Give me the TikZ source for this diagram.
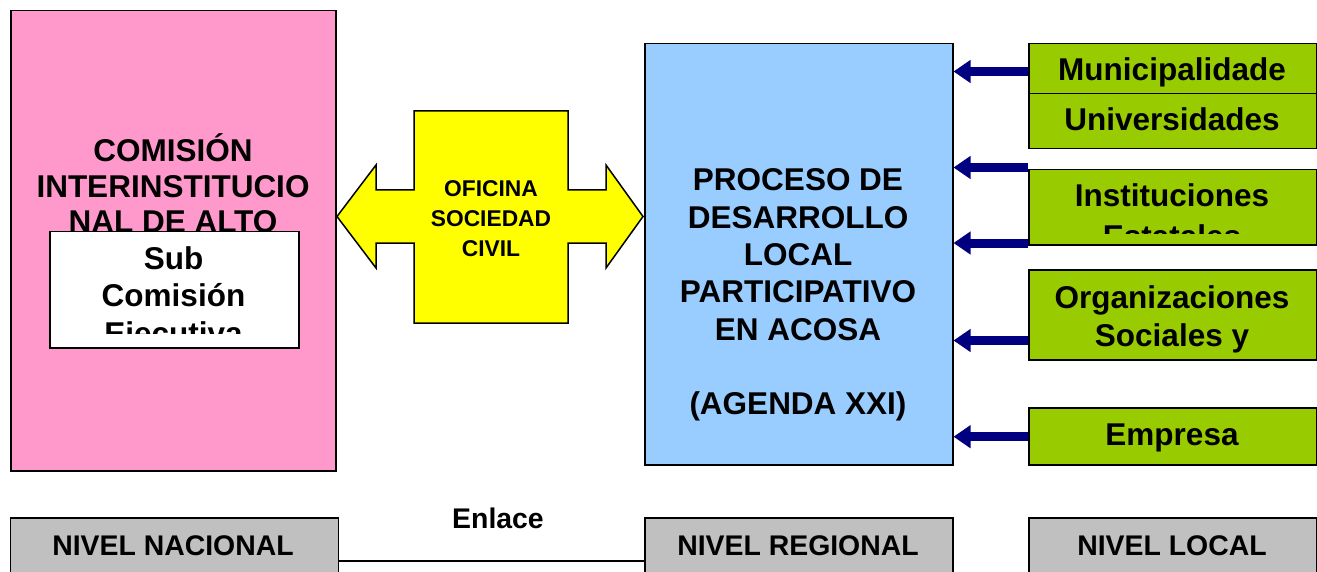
\documentclass[tikz,border=0pt]{standalone}
\usepackage{fontspec}
\setmainfont{Liberation Sans}
\usetikzlibrary{arrows.meta}
\definecolor{pinkc}{HTML}{FF99CC}
\definecolor{bluec}{HTML}{99CCFF}
\definecolor{yellowc}{HTML}{FFFF00}
\definecolor{greenc}{HTML}{99CC00}
\definecolor{grayc}{HTML}{C0C0C0}
\definecolor{navyc}{HTML}{000080}
\tikzset{
  box/.style={draw=black, line width=1.5pt, inner sep=0pt, anchor=north west},
  tl/.style={anchor=base, inner sep=0pt, font=\bfseries\fontsize{31.5}{37}\selectfont},
  tm/.style={anchor=base, inner sep=0pt, font=\bfseries\fontsize{28.4}{33}\selectfont},
  tsm/.style={anchor=base, inner sep=0pt, font=\bfseries\fontsize{22.8}{27}\selectfont},
  navyarrow/.style={line width=9pt, draw=navyc, -{Triangle[length=17pt,width=22pt,fill=navyc]}},
}
\begin{document}
\begin{tikzpicture}[x=1pt,y=-1pt]
\useasboundingbox (0,0) rectangle (1317,572);
\clip (0,0) rectangle (1317,572);
\fill[white] (0,0) rectangle (1317,572);

% left pink box
\node[box, fill=pinkc, minimum width=325pt, minimum height=460pt] (cia) at (10,10) {};
\node[tl] (cia1) at (173,161.7) {COMISIÓN};
\node[tl] (cia2) at (173,197.5) {INTERINSTITUCIO};
\node[tl] (cia3) at (173,233) {NAL DE ALTO};
\node[box, fill=white, minimum width=249pt, minimum height=116pt] (sub) at (49,231) {};
\node[tl] (sub1) at (173.5,269.3) {Sub};
\node[tl] (sub2) at (173.5,306.7) {Comisión};
\begin{scope}
  \clip (50,232) rectangle (297,333.3);
  \node[tl] (sub3) at (173.5,344.1) {Ejecutiva};
\end{scope}

% yellow double arrow
\draw[fill=yellowc, line width=1.5pt, line join=miter]
  (337,216.5) -- (376,165) -- (376,190) -- (414,190) -- (414,111) -- (568,111)
  -- (568,190) -- (606,190) -- (606,165) -- (643,216.5) -- (606,268) -- (606,243)
  -- (568,243) -- (568,323) -- (414,323) -- (414,243) -- (376,243) -- (376,268) -- cycle;
\node[tsm] (of1) at (491,196.5) {OFICINA};
\node[tsm] (of2) at (491,226) {SOCIEDAD};
\node[tsm] (of3) at (491,256.5) {CIVIL};

% blue box
\node[box, fill=bluec, minimum width=308pt, minimum height=421pt] (blue) at (644,43) {};
\node[tl] (b1) at (798,191) {PROCESO DE};
\node[tl] (b2) at (798,228.3) {DESARROLLO};
\node[tl] (b3) at (798,265.6) {LOCAL};
\node[tl] (b4) at (798,302.9) {PARTICIPATIVO};
\node[tl] (b5) at (798,340.2) {EN ACOSA};
\node[tl] (b6) at (798,414.8) {(AGENDA XXI)};

% green boxes
\node[box, fill=greenc, minimum width=288pt, minimum height=50pt] (muni) at (1028,43) {};
\node[box, fill=greenc, minimum width=288pt, minimum height=55pt] (univ) at (1028,93) {};
\node[tl] (muniT) at (1172,81) {Municipalidade};
\node[tl] (univT) at (1172,131) {Universidades};
\node[box, fill=greenc, minimum width=288pt, minimum height=75pt] (inst) at (1028,169) {};
\node[tl] (instT) at (1172,207) {Instituciones};
\begin{scope}
  \clip (1029,170) rectangle (1315,233.3);
  \node[tl] (instT2) at (1172,247.5) {Estatales};
\end{scope}
\node[box, fill=greenc, minimum width=288pt, minimum height=90pt] (org) at (1028,269) {};
\node[tl] (orgT) at (1172,308.5) {Organizaciones};
\node[tl] (orgT2) at (1172,346) {Sociales y};
\node[box, fill=greenc, minimum width=288pt, minimum height=57pt] (emp) at (1028,407) {};
\node[tl] (empT) at (1172,445) {Empresa};

% navy arrows
\draw[navyarrow] (muni.west |- 0,71.5) -- (blue.east |- 0,71.5);
\draw[navyarrow] (inst.west |- 0,167.5) -- (blue.east |- 0,167.5);
\draw[navyarrow] (inst.west |- 0,243) -- (blue.east |- 0,243);
\draw[navyarrow] (org.west |- 0,340.5) -- (blue.east |- 0,340.5);
\draw[navyarrow] (emp.west |- 0,436.7) -- (blue.east |- 0,436.7);

% bottom level boxes
\node[box, fill=grayc, minimum width=328pt, minimum height=80pt] (nac) at (9.5,517) {};
\node[tm] (nacT) at (173,555) {NIVEL NACIONAL};
\node[box, fill=grayc, minimum width=308pt, minimum height=80pt] (reg) at (644,517) {};
\node[tm] (regT) at (798,555) {NIVEL REGIONAL};
\node[box, fill=grayc, minimum width=288pt, minimum height=80pt] (loc) at (1028,517) {};
\node[tm] (locT) at (1172,555) {NIVEL LOCAL};

\draw[line width=1.5pt] (nac.east |- 0,561) -- (reg.west |- 0,561);
\node[tm] (enlace) at (498,528) {Enlace};
\end{tikzpicture}
\end{document}
